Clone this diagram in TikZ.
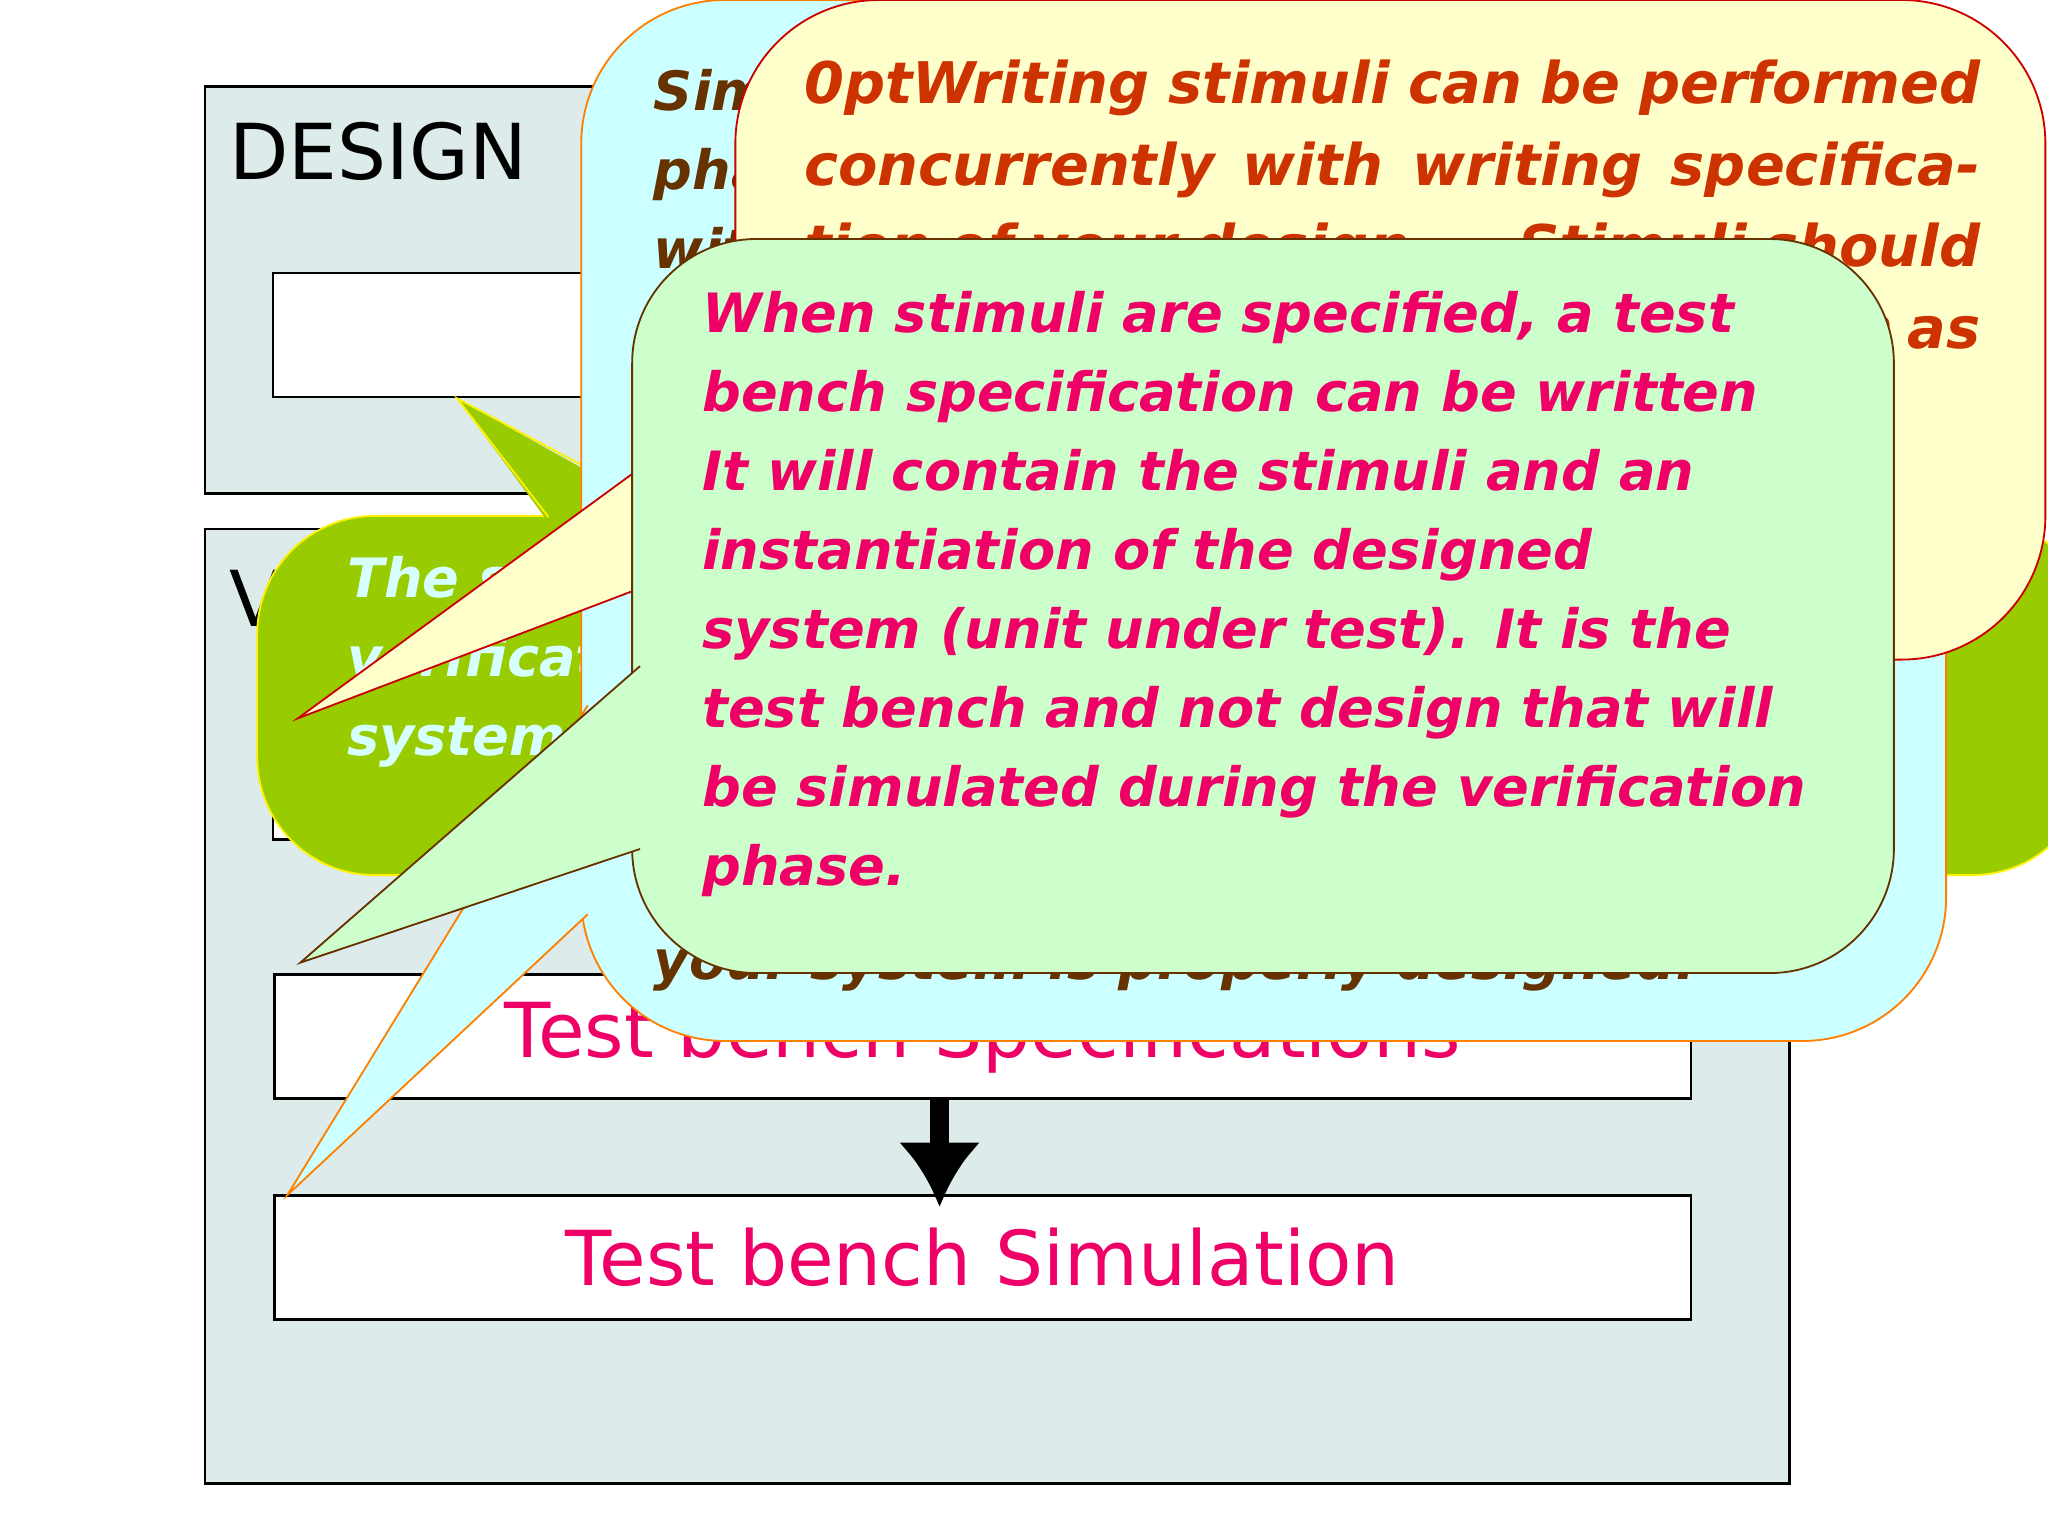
\documentclass[tikz,border=0pt]{standalone}
\usepackage{fontspec}
\setmainfont{DejaVu Sans}
\usetikzlibrary{arrows.meta}
\begin{document}
\begin{tikzpicture}[x=0.01cm,y=-0.01cm,
  panel/.style={draw=black,fill=panelc,line width=0.6pt},
  wbox/.style={draw=black,fill=white,line width=0.6pt},
  big/.style={font=\fontsize{16.8}{20}\selectfont,anchor=west,inner sep=0},
  ctext/.style={font=\fontsize{11.8}{17.2}\selectfont\bfseries\itshape,anchor=north west,inner sep=0,align=left}]
\definecolor{panelc}{HTML}{DDEBEA}
\definecolor{pinkc}{HTML}{EE0066}
\definecolor{greenc}{HTML}{99CC00}
\definecolor{cyanc}{HTML}{CCFFFF}
\definecolor{yelc}{HTML}{FFFFCC}
\definecolor{lgc}{HTML}{CCFFCC}
\definecolor{brownc}{HTML}{663300}
\definecolor{orc}{HTML}{CC3300}
\useasboundingbox (0,0) rectangle (1568,1176);
\fill[white] (0,0) rectangle (1568,1176);
% panels
\draw[panel] (157,66) rectangle (1370,378);
\node[big] (design) at (175,116) {DESIGN};
\draw[wbox] (209,209) rectangle (1293,304);
\draw[panel] (157,405) rectangle (1370,1136);
\node[big] (verif) at (175,458) {VERIFICATION};
\draw[wbox] (209,548) rectangle (1293,643);
\node[wbox,minimum width=10.84cm,minimum height=0.95cm,anchor=north west,text=pinkc,font=\fontsize{16.5}{20}\selectfont] (spec) at (209,745) {Test bench Specifications};
\node[wbox,minimum width=10.84cm,minimum height=0.95cm,anchor=north west,text=pinkc,font=\fontsize{16.5}{20}\selectfont] (sim) at (209,914) {Test bench Simulation};
\draw[line width=4pt,-{Latex[length=14pt,width=18pt]}] (spec.south) ++(-33,0) coordinate (a1) -- ([yshift=-0.1cm]sim.north -| a1);
% green callout
\draw[draw=yellow,fill=greenc,rounded corners=0.9cm] (197,395) rectangle (1600,670);
\fill[greenc] (350,305) -- (420,400) -- (520,400) -- cycle;
\draw[yellow] (420,396) -- (350,305) -- (520,396);
\node[ctext,text=cyanc!80!white] (gt) at (265,425) {The simulation is performed during the\\verification phase, where the designed\\system is tested};
% cyan callout
\draw[draw=orange,fill=cyanc,rounded corners=1.1cm] (445,0) rectangle (1490,797);
\fill[cyanc] (220,915) -- (450,540) -- (450,700) -- cycle;
\draw[orange] (450,540) -- (220,915) -- (450,700);
\node[ctext,text=brownc] (ct) at (500,52) {Simulation is the next\\phase of the design flow\\with the help of test bench\\specification};
\node[ctext,text=brownc] (ct2) at (500,718) {your system is properly designed.};
% yellow callout
\draw[draw=red!80!black,fill=yelc,rounded corners=1.1cm] (563,0) rectangle (1566,505);
\fill[yelc] (228,550) -- (570,300) -- (570,420) -- cycle;
\draw[red!80!black] (570,300) -- (228,550) -- (570,420);
\node[ctext,text=orc,text width=9.0cm,align=justify,font=\fontsize{12.5}{17.8}\selectfont\bfseries\itshape\hyphenpenalty=10000\exhyphenpenalty=10000] (yt) at (615,45) {Writing stimuli can be performed concurrently with writing specification of your design ... Stimuli should be (as complete) as possible, such as};
% light green callout
\draw[draw=brownc,fill=lgc,rounded corners=0.95cm] (484,183) rectangle (1450,745);
\fill[lgc] (230,737) -- (490,510) -- (490,650) -- cycle;
\draw[brownc] (490,510) -- (230,737) -- (490,650);
\node[ctext,text=pinkc] (lt) at (537,222) {When stimuli are specified, a test\\bench specification can be written\\It will contain the stimuli and an\\instantiation of the designed\\system (unit under test). It is the\\test bench and not design that will\\be simulated during the verification\\phase.};
\end{tikzpicture}
\end{document}
